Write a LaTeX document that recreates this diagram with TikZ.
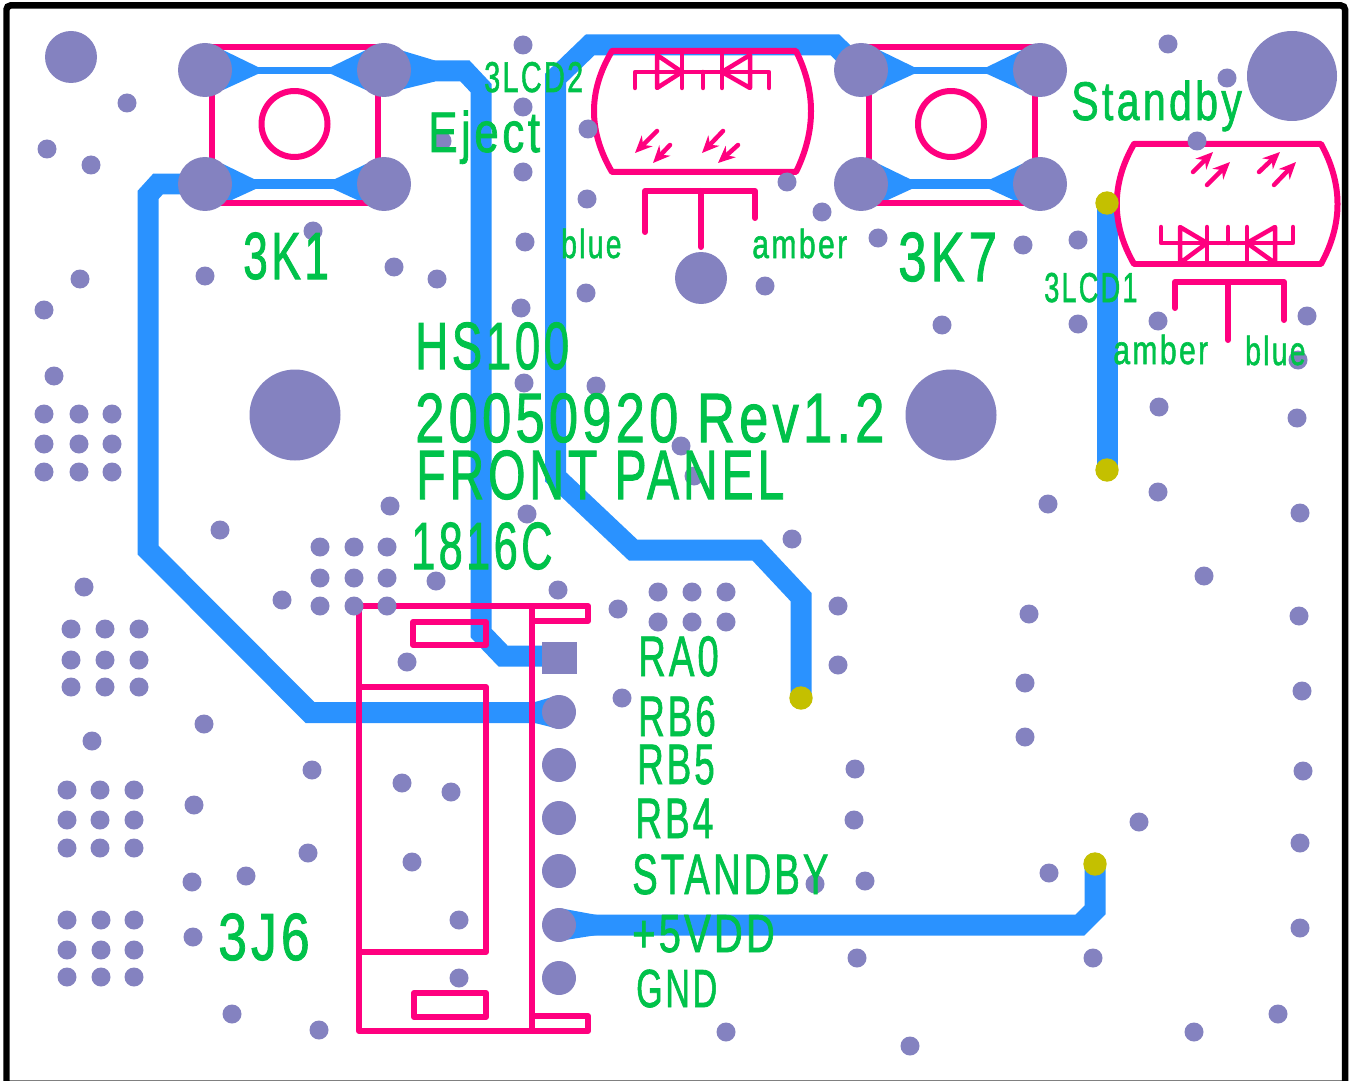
\documentclass[tikz,border=0pt]{standalone}
\usepackage{fontspec}
\setmainfont[LetterSpace=8,FakeBold=1.5]{Liberation Sans}
\usetikzlibrary{arrows.meta}

\definecolor{tracecol}{HTML}{2A92FF}
\definecolor{silkcol}{HTML}{FF007F}
\definecolor{viacol}{HTML}{8482C0}
\definecolor{labelcol}{HTML}{00C24A}
\definecolor{testcol}{HTML}{C4C000}

\tikzset{
    trace/.style={draw=tracecol,line width=.42cm},
    thin trace/.style={draw=tracecol,line width=#1},
    silk/.style={draw=silkcol,line width=.12cm,line cap=round,line join=round},
    thin silk/.style={silk,line width=.09cm},
    silk arrow/.style={silk,line width=.09cm,-{Stealth[length=.34cm,width=.3cm]}},
    via/.style={fill=viacol},
    test pad/.style={fill=testcol},
    pcb label/.style={text=labelcol,inner sep=0pt,anchor=base west,font=\fontsize{#1}{#1}\selectfont}
}

\begin{document}
\begin{tikzpicture}[x=.02cm,y=-.02cm]
        \useasboundingbox (0,0) rectangle (1355,1081);
        \fill[white] (0,0) rectangle (1355,1081);
        % board edge
        \draw[black!50,line width=.02cm] (9,1080.5) -- (1342,1080.5);
        \draw[black,line width=.13cm,rounded corners=.08cm] (6.5,1081) -- (6.5,5.5) -- (1345,5.5) -- (1345,1081);

        % copper
        \draw[trace] (384,71) -- (465,71) -- (481,88) -- (481,633) -- (503,656) -- (559,656);
        \draw[trace] (205,184) -- (158,184) -- (148,195) -- (148,550) -- (310,712.5) -- (559,712.5);
        \draw[trace] (861,70) -- (835,45) -- (590,45) -- (555.7,78) -- (555.7,477) -- (633,550) -- (757,550) -- (801,597) -- (801,698);
        \draw[trace] (1107,203) -- (1107,470);
        \draw[trace] (559,925) -- (1080,925) -- (1095,910) -- (1095,864);
        \foreach \sx in {0,656.5} {
            \draw[thin trace=.14cm] (205+\sx,70.5) -- (384+\sx,70.5);
            \draw[thin trace=.2cm] (205+\sx,184) -- (384+\sx,184);
        }
        % teardrops
        \foreach \px/\py/\dx in {205/70/1,384/70/-1,205/184/1,384/184/-1,861/70/1,1040/70/-1,861/184/1,1040/184/-1}
            \fill[tracecol] (\px+18*\dx,\py-20) -- (\px+55*\dx,\py-2) -- (\px+55*\dx,\py+3) -- (\px+18*\dx,\py+20) -- cycle;
        \fill[tracecol] (400,50) -- (435,60.5) -- (435,81.5) -- (400,90) -- cycle;
        \fill[tracecol] (535,702) -- (559,695) -- (559,729) -- (535,723) -- cycle;
        \fill[tracecol] (559,908) -- (597,915) -- (597,935) -- (559,941) -- cycle;

        % switches
        \foreach \sx in {0,656.5} {
            \draw[silk] (212+\sx,47) rectangle (378+\sx,203);
            \draw[silk] (294.5+\sx,124) circle (33);
        }

        % LED top
        \draw[silk] (612,51) -- (796,51) .. controls (816,91) and (816,131) .. (796,172) -- (612,172) .. controls (588,131) and (588,91) .. (612,51);
        \draw[thin silk] (635,88) -- (635,72) -- (769,72) -- (769,88);
        \draw[thin silk] (682,72) -- (657,55) -- (657,88) -- cycle;
        \draw[thin silk] (722,72) -- (750,55) -- (750,88) -- cycle;
        \draw[thin silk] (682,51) -- (682,88);
        \draw[thin silk] (722,51) -- (722,88);
        \draw[thin silk] (703,72) -- (703,88);
        \foreach \ax/\ay/\bx/\by in {657/131/635/153,670/145/653/163,723/131/702/153,738/145/718/163}
            \draw[silk arrow] (\ax,\ay) -- (\bx,\by);
        \draw[silk] (645,232) -- (645,191) -- (755,191) -- (755,218);
        \draw[silk] (701,191) -- (701,247);

        % LED right
        \draw[silk] (1134,144) -- (1321,144) .. controls (1343,184) and (1343,224) .. (1321,264) -- (1134,264) .. controls (1111,224) and (1111,184) .. (1134,144);
        \draw[thin silk] (1161,227) -- (1161,243) -- (1293,243) -- (1293,227);
        \draw[thin silk] (1207,243) -- (1180,227) -- (1180,263) -- cycle;
        \draw[thin silk] (1247,243) -- (1275,227) -- (1275,263) -- cycle;
        \draw[thin silk] (1207,227) -- (1207,263);
        \draw[thin silk] (1247,227) -- (1247,263);
        \draw[thin silk] (1228,227) -- (1228,243);
        \foreach \ax/\ay/\bx/\by in {1193/172/1213/152,1207/185/1230/162,1259/172/1280/152,1274/185/1296/162}
            \draw[silk arrow] (\ax,\ay) -- (\bx,\by);
        \draw[silk] (1175,308) -- (1175,282) -- (1284,282) -- (1284,320);
        \draw[silk] (1228,282) -- (1228,340);

        % connector outline
        \draw[silk] (359,606) rectangle (532,1031);
        \draw[silk] (532,606) -- (588,606) -- (588,621) -- (532,621);
        \draw[silk] (532,1016) -- (588,1016) -- (588,1031) -- (532,1031);
        \draw[silk] (413,622) rectangle (486,645);
        \draw[silk] (414,993) rectangle (486,1017);
        \draw[silk] (359,687) -- (486,687) -- (486,952) -- (359,952);

        % big holes and pads
        \foreach \hx/\hy/\hr in {71/57/26,1292/76/45,295/415/45.5,951/415/45.5,701/278/26,
            205/70/27,384/70/27,205/184/27,384/184/27,861/70/27,1040/70/27,861/184/27,1040/184/27,
            559/712/17,559/765/17,559/818/17,559/871/17,559/925/17,559/978/17}
            \fill[via] (\hx,\hy) circle (\hr);
        \fill[via] (542,642) rectangle (577,674);

        % small vias
        \foreach \gx in {44,79,112} \foreach \gy in {414,444,472} \fill[via] (\gx,\gy) circle (9.5);
        \foreach \gx in {320,354,387} \foreach \gy in {547,578,606} \fill[via] (\gx,\gy) circle (9.5);
        \foreach \gx in {71,105,139} \foreach \gy in {629,660,687} \fill[via] (\gx,\gy) circle (9.5);
        \foreach \gx in {67,100,134} \foreach \gy in {790,820,848} \fill[via] (\gx,\gy) circle (9.5);
        \foreach \gx in {67,101,134} \foreach \gy in {920,950,977} \fill[via] (\gx,\gy) circle (9.5);
        \foreach \gx in {658,692,726} \foreach \gy in {592,622} \fill[via] (\gx,\gy) circle (9.5);
        \foreach \vx/\vy in {127/103,47/149,91/165,313/231,205/276,80/279,44/310,394/267,437/279,54/376,
            220/530,84/587,282/600,390/506,436/581,204/724,92/741,312/770,194/805,308/853,192/882,246/876,193/937,
            232/1014,319/1030,407/662,402/783,451/792,412/862,459/920,459/978,
            523/45,523/107,442/141,523/172,588/129,587/199,525/242,586/293,521/308,524/383,596/386,
            787/182,822/212,878/238,765/286,942/325,681/446,694/476,527/514,792/539,558/590,
            618/609,622/698,838/606,838/665,815/884,
            1168/44,1227/78,1197/141,1023/245,1078/240,1078/324,1158/321,1307/316,1298/360,1159/407,1297/418,
            1158/492,1048/504,1300/513,1204/576,1029/614,1299/616,1025/683,1302/691,1025/737,855/769,1303/771,
            854/820,1139/822,1300/843,1049/873,865/881,1300/928,857/958,1093/958,726/1032,910/1046,1194/1032,1278/1014}
            \fill[via] (\vx,\vy) circle (9.5);

        % test points
        \foreach \tx/\ty in {1107/203,1107/470,801/698,1095/864}
            \fill[test pad] (\tx,\ty) circle (11.7);

        % labels
        \foreach \name/\lx/\ly/\lsize/\lscale/\ltext in {
            lcdtwo/484/92/24.5pt/.67/3LCD2,eject/428/152/32.5pt/.77/Eject,
            keyone/243/279/38pt/.663/3K1,keyseven/898/281/39.7pt/.73/3K7,
            blueleft/561/258/23pt/.70/blue,amberleft/752/258/23pt/.745/amber,
            standby/1071/120/31pt/.755/Standby,lcdone/1044/302/23.8pt/.65/3LCD1,
            amberright/1113/364/23pt/.745/amber,blueright/1245/365/23pt/.70/blue,
            model/415/369/38pt/.683/HS100,revision/415/442/39.7pt/.753/20050920 Rev1.2,
            panel/416/499/39.7pt/.69/FRONT PANEL,part/411/569/38pt/.648/1816C,
            pinra/638/676/32.5pt/.67/RA0,pinrbsix/638/736/32.5pt/.645/RB6,
            pinrbfive/637/784/32.5pt/.645/RB5,pinrbfour/635/838/32.5pt/.65/RB4,
            pinstandby/632/894/32.5pt/.67/STANDBY,pinvdd/632/952/30.5pt/.745/+5VDD,
            pingnd/636/1007/30.5pt/.635/GND,header/218/960/38pt/.773/3J6}
            \node[pcb label=\lsize,xscale=\lscale] (\name) at (\lx,\ly) {\ltext};
\end{tikzpicture}
\end{document}
